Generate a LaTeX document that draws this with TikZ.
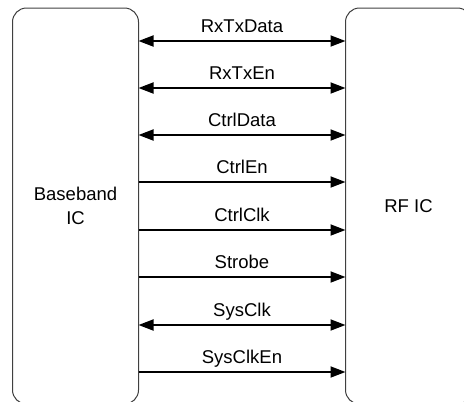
\documentclass[tikz,border=0pt]{standalone}
\usepackage{fontspec}
\setmainfont{Liberation Sans}
\usepackage{tikz}
\usetikzlibrary{arrows.meta}

\begin{document}
\begin{tikzpicture}[
    x=1pt, y=-1pt,
    chip/.style={rectangle, draw=black!75, line width=1pt, rounded corners=14pt, minimum width=126pt, minimum height=396pt, align=center, font=\fontsize{18.5}{24}\selectfont},
    signame/.style={anchor=base, font=\fontsize{18.5}{22}\selectfont},
    sig/.style={line width=1.8pt, -{Triangle[length=15pt,width=11pt]}},
    bisig/.style={sig, {Triangle[length=15pt,width=11pt]}-{Triangle[length=15pt,width=11pt]}}
]
\useasboundingbox (0,0) rectangle (464,402);

% Chips
\node[chip] (baseband) at (75.5,206) {Baseband\\IC};
\node[chip] (rfic) at (408.5,206) {RF IC};

% Pin points on the chip edges
\coordinate (bb_rxtxdata) at (138.5,41);
\coordinate (rf_rxtxdata) at (345.5,41);
\coordinate (bb_rxtxen) at (138.5,88);
\coordinate (rf_rxtxen) at (345.5,88);
\coordinate (bb_ctrldata) at (138.5,135);
\coordinate (rf_ctrldata) at (345.5,135);
\coordinate (bb_ctrlen) at (138.5,182);
\coordinate (rf_ctrlen) at (345.5,182);
\coordinate (bb_ctrlclk) at (138.5,230);
\coordinate (rf_ctrlclk) at (345.5,230);
\coordinate (bb_strobe) at (138.5,277);
\coordinate (rf_strobe) at (345.5,277);
\coordinate (bb_sysclk) at (138.5,325);
\coordinate (rf_sysclk) at (345.5,325);
\coordinate (bb_sysclken) at (138.5,372);
\coordinate (rf_sysclken) at (345.5,372);

% Signal names
\node[signame] (rxtxdata) at (242,32) {RxTxData};
\node[signame] (rxtxen) at (242,79) {RxTxEn};
\node[signame] (ctrldata) at (242,126) {CtrlData};
\node[signame] (ctrlen) at (242,173) {CtrlEn};
\node[signame] (ctrlclk) at (242,221) {CtrlClk};
\node[signame] (strobe) at (242,268) {Strobe};
\node[signame] (sysclk) at (242,316) {SysClk};
\node[signame] (sysclken) at (242,363) {SysClkEn};

% Signals
\draw[bisig] (bb_rxtxdata) -- (rf_rxtxdata);
\draw[bisig] (bb_rxtxen) -- (rf_rxtxen);
\draw[bisig] (bb_ctrldata) -- (rf_ctrldata);
\draw[sig] (bb_ctrlen) -- (rf_ctrlen);
\draw[sig] (bb_ctrlclk) -- (rf_ctrlclk);
\draw[sig] (bb_strobe) -- (rf_strobe);
\draw[bisig] (bb_sysclk) -- (rf_sysclk);
\draw[sig] (bb_sysclken) -- (rf_sysclken);

\end{tikzpicture}
\end{document}
